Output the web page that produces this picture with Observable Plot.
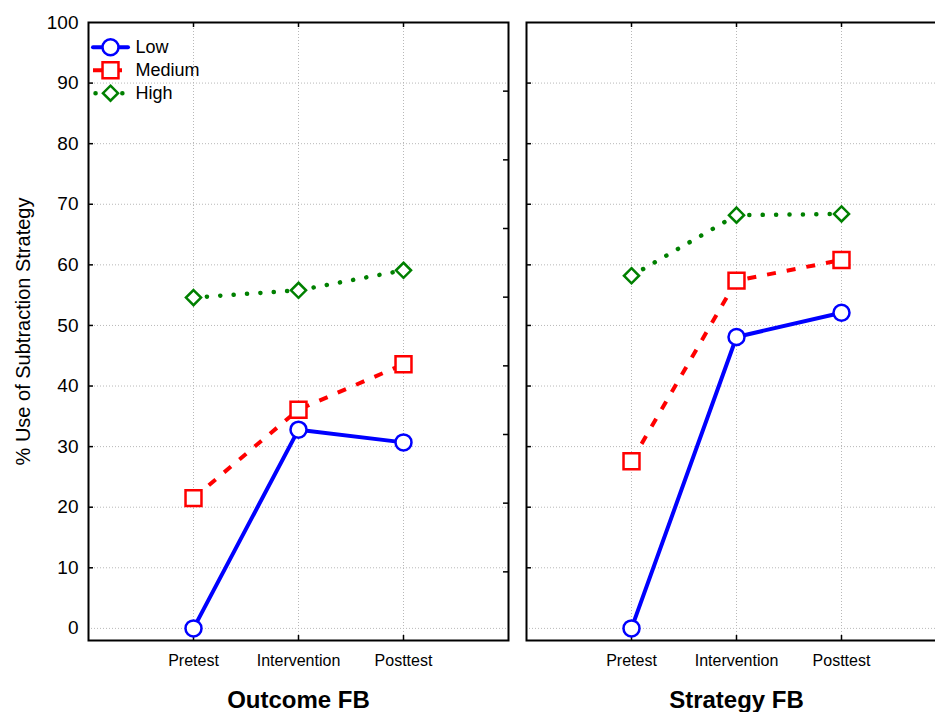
<!DOCTYPE html>
<html><head><meta charset="utf-8">
<script src="https://cdn.jsdelivr.net/npm/d3@7"></script>
<script src="https://cdn.jsdelivr.net/npm/@observablehq/plot@0.6"></script>
<style>
body{margin:0;background:#fff;}
#wrap{position:relative;width:935px;height:712px;overflow:hidden;background:#fff;}
#left{position:absolute;left:0;top:0;width:515px;height:712px;}
#right{position:absolute;left:515px;top:0;width:431px;height:712px;}
#wrap svg{max-width:none !important;display:block;}
</style></head><body><div id="wrap"><div id="left"></div><div id="right"></div></div>
<script>
const phases = ["Pretest", "Intervention", "Posttest"];
const seriesNames = ["Low", "Medium", "High"];
const panelTitles = ["Outcome FB", "Strategy FB"];
const yLabel = "% Use of Subtraction Strategy";

const outcomeLow = [0, 32.8, 30.7];
const outcomeMedium = [21.5, 36.1, 43.6];
const outcomeHigh = [54.6, 55.8, 59.1];
const strategyLow = [0, 48.1, 52.1];
const strategyMedium = [27.6, 57.4, 60.8];
const strategyHigh = [58.2, 68.2, 68.4];

const yTicks = [0, 10, 20, 30, 40, 50, 60, 70, 80, 90, 100];
const rightAxisTicks = [9.33, 20.67, 32, 43.33, 54.67, 66, 77.33, 88.67];

const FONT = "Arial, 'Liberation Sans', sans-serif";
const W_FRAME = 420, H_FRAME = 618;

const seriesStyle = {
  Low:    {stroke: "#0000ff", width: 4,   dash: null,       cap: "round", symbol: "circle",   r: 8,   seg: [-17.5, 17.5]},
  Medium: {stroke: "#ff0000", width: 4,   dash: "9,11",     cap: "butt",  symbol: "square",   r: 9,   seg: [-17.5, 17.5]},
  High:   {stroke: "#008000", width: 4.5, dash: "0.1,13.3", cap: "round", symbol: "diamond2", r: 6.8, seg: [-15, 13]}
};

const segSymbol = ([a, b]) => ({draw(ctx) { ctx.moveTo(a, 0); ctx.lineTo(b, 0); }});

function makePanel(values, title, isLeft) {
  const data = seriesNames.flatMap((s, si) =>
    phases.map((p, i) => ({series: s, phase: p, value: values[si][i]})));

  const marks = [
    Plot.gridY({ticks: yTicks, stroke: "#b8b8b8", strokeOpacity: 1, strokeDasharray: "1,2"}),
    Plot.gridX({ticks: phases, stroke: "#b8b8b8", strokeOpacity: 1, strokeDasharray: "1,2"}),
    // inward ticks
    Plot.tickY(yTicks.filter(v => v > 0 && v < 100), {y: d => d, stroke: "#000", strokeWidth: 1.5, insetRight: W_FRAME - 5}),
    Plot.tickX(phases, {x: d => d, stroke: "#000", strokeWidth: 1.5, insetBottom: H_FRAME - 5}),
    Plot.tickX(phases, {x: d => d, stroke: "#000", strokeWidth: 1.5, insetTop: H_FRAME - 5}),
    Plot.axisX({tickSize: 0, tickPadding: 14, fontSize: 16, label: null}),
    Plot.text([title], {text: d => d, frameAnchor: "bottom", lineAnchor: "middle", dy: 60, fontSize: 24, fontWeight: "bold"})
  ];
  if (isLeft) {
    marks.push(
      Plot.tickY(rightAxisTicks, {y: d => d, stroke: "#000", strokeWidth: 1.5, insetLeft: W_FRAME - 5}),
      Plot.axisY({ticks: yTicks, tickSize: 0, tickPadding: 10, fontSize: 19, label: null}),
      Plot.text([yLabel], {text: d => d, frameAnchor: "left", textAnchor: "middle", lineAnchor: "middle",
        rotate: -90, dx: -65, fontSize: 20})
    );
  }
  marks.push(Plot.frame({stroke: "#000", strokeWidth: 2}));

  for (const s of seriesNames) {
    const st = seriesStyle[s];
    const sd = data.filter(d => d.series === s);
    marks.push(
      Plot.line(sd, {x: "phase", y: "value", stroke: st.stroke, strokeWidth: st.width,
        strokeDasharray: st.dash, strokeLinecap: st.cap, strokeLinejoin: "round"}),
      Plot.dot(sd, {x: "phase", y: "value", symbol: st.symbol, r: st.r, stroke: st.stroke,
        fill: "white", strokeWidth: 2.5})
    );
  }

  if (isLeft) {
    seriesNames.forEach((s, i) => {
      const st = seriesStyle[s];
      const dy = 24.7 + 23 * i;
      marks.push(
        Plot.dot([s], {frameAnchor: "top-left", dx: 22, dy, symbol: segSymbol(st.seg), fill: "none",
          stroke: st.stroke, strokeWidth: st.width, strokeDasharray: st.dash, strokeLinecap: st.cap}),
        Plot.dot([s], {frameAnchor: "top-left", dx: 22, dy, symbol: st.symbol, r: st.r,
          stroke: st.stroke, fill: "white", strokeWidth: 2.5}),
        Plot.text([s], {text: d => d, frameAnchor: "top-left", lineAnchor: "middle", dx: 47, dy,
          textAnchor: "start", fontSize: 18})
      );
    });
  }

  return Plot.plot({
    width: isLeft ? 515 : 431,
    height: 712,
    marginLeft: isLeft ? 88 : 11,
    marginRight: isLeft ? 7 : 0,
    marginTop: 22,
    marginBottom: 72,
    x: {type: "point", domain: phases, padding: 1, axis: null},
    y: {domain: [-2, 100], nice: false, axis: null},
    style: {fontFamily: FONT, color: "#000", background: "transparent", overflow: "visible"},
    marks
  });
}

document.getElementById("left").append(
  makePanel([outcomeLow, outcomeMedium, outcomeHigh], panelTitles[0], true));
document.getElementById("right").append(
  makePanel([strategyLow, strategyMedium, strategyHigh], panelTitles[1], false));
</script>
</body></html>
